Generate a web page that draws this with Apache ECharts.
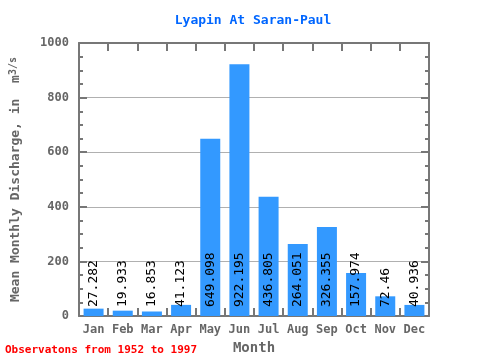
<!DOCTYPE html>
<html><head><meta charset="utf-8">
<script src="https://cdn.jsdelivr.net/npm/echarts@6/dist/echarts.min.js"></script>
<style>html,body{margin:0;padding:0;background:#fff}#c{width:480px;height:360px}</style>
</head><body><div id="c"></div>
<script>
const months = ['Jan','Feb','Mar','Apr','May','Jun','Jul','Aug','Sep','Oct','Nov','Dec'];
const discharge = [27.282, 19.933, 16.853, 41.123, 649.098, 922.195, 436.805, 264.051, 326.355, 157.974, 72.46, 40.936];
const titleText = 'Lyapin At Saran-Paul';
const noteText = 'Observatons from 1952 to 1997';
const yTicks = {min: 0, max: 1000, interval: 200};

const FONT = '"DejaVu Sans Mono", "Liberation Mono", monospace';
const axisGray = '#777777';
const chart = echarts.init(document.getElementById('c'), null, {renderer: 'canvas'});
chart.setOption({
  animation: false,
  backgroundColor: '#ffffff',
  title: {
    text: titleText, left: 248, top: 9, textAlign: 'center',
    textStyle: {color: '#0066ff', fontFamily: FONT, fontWeight: 'bold', fontSize: 13}
  },
  graphic: [{
    type: 'text', left: 5, top: 345,
    style: {text: noteText, fill: '#ff0000', font: 'bold 11px ' + FONT}
  }],
  grid: {left: 79, right: 51, top: 43, bottom: 38, containLabel: false},
  xAxis: [{
    type: 'category', data: months, position: 'bottom',
    axisLine: {onZero: false, lineStyle: {color: axisGray, width: 2}},
    axisTick: {show: true, inside: true, length: 8, interval: 0, alignWithLabel: false, lineStyle: {color: axisGray, width: 2}},
    axisLabel: {color: '#666666', fontFamily: FONT, fontWeight: 'bold', fontSize: 12, margin: 8, interval: 0},
    name: 'Month', nameLocation: 'middle', nameGap: 21,
    nameTextStyle: {color: '#666666', fontFamily: FONT, fontWeight: 'bold', fontSize: 14}
  }, {
    type: 'category', data: months, position: 'top',
    axisLine: {show: true, onZero: false, lineStyle: {color: axisGray, width: 2}},
    axisTick: {show: true, inside: true, length: 8, interval: 0, alignWithLabel: false, lineStyle: {color: axisGray, width: 2}},
    axisLabel: {show: false}
  }],
  yAxis: [{
    type: 'value', min: yTicks.min, max: yTicks.max, interval: yTicks.interval, position: 'left',
    axisLine: {show: true, onZero: false, lineStyle: {color: axisGray, width: 2}},
    axisTick: {show: true, inside: true, length: 8, lineStyle: {color: axisGray, width: 2}},
    minorTick: {show: true, splitNumber: 4, length: 4, lineStyle: {color: axisGray, width: 2}},
    splitLine: {show: true, lineStyle: {color: '#b0b0b0', width: 1}},
    axisLabel: {color: '#666666', fontFamily: FONT, fontWeight: 'bold', fontSize: 12, margin: 10, formatter: v => String(v)},
    name: '{a|Mean Monthly Discharge, in  m}{s|3/s}', nameLocation: 'middle', nameGap: 55, nameRotate: 90,
    nameTextStyle: {
      color: '#666666', fontFamily: FONT, fontWeight: 'bold', fontSize: 13,
      rich: {
        a: {color: '#666666', fontFamily: FONT, fontWeight: 'bold', fontSize: 13},
        s: {color: '#666666', fontFamily: FONT, fontWeight: 'bold', fontSize: 10, verticalAlign: 'top', padding: [0,0,6,0]}
      }
    }
  }, {
    type: 'value', min: yTicks.min, max: yTicks.max, interval: yTicks.interval, position: 'right',
    axisLine: {show: true, onZero: false, lineStyle: {color: axisGray, width: 2}},
    axisTick: {show: true, inside: true, length: 8, lineStyle: {color: axisGray, width: 2}},
    minorTick: {show: true, splitNumber: 4, length: 4, lineStyle: {color: axisGray, width: 2}},
    splitLine: {show: false},
    axisLabel: {show: false}
  }],
  series: [{
    type: 'bar', data: discharge, xAxisIndex: 0, yAxisIndex: 0,
    barWidth: 20,
    itemStyle: {color: '#3399ff'},
    label: {
      show: true, position: 'insideBottom', rotate: 90, align: 'left', verticalAlign: 'middle',
      distance: 9, color: '#000000', fontFamily: FONT, fontSize: 13,
      formatter: p => String(discharge[p.dataIndex])
    }
  }]
});
</script></body></html>
